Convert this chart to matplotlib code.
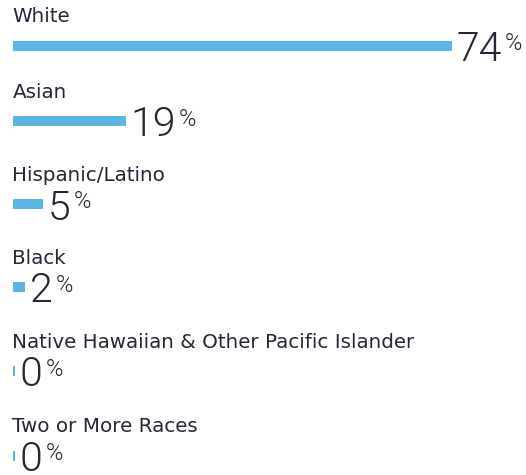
import matplotlib
matplotlib.use("Agg")
import matplotlib.pyplot as plt

categories = ["White", "Asian", "Hispanic/Latino", "Black",
              "Native Hawaiian & Other Pacific Islander", "Two or More Races"]
values = [74, 19, 5, 2, 0, 0]
value_labels = ["74", "19", "5", "2", "0", "0"]

bar_color = "#5db3e4"
text_color = "#262636"

fig = plt.figure(figsize=(5.26, 4.75), dpi=100)
ax = fig.add_axes([0, 0, 1, 1])
px = 5.93  # pixels per percent
ax.set_xlim(-13 / px, 513 / px)
ax.set_ylim(475, 0)
ax.axis("off")

# row centres in pixels (layout only)
ys = [45.5, 121, 204, 287, 371, 455.5]
widths = [max(v, 0.3) for v in values]
ax.barh(ys, widths, height=10, color=bar_color, left=0)

fig.canvas.draw()
renderer = fig.canvas.get_renderer()
for y, w, cat, lab in zip(ys, widths, categories, value_labels):
    ax.text(-0.5 / px, y - 23, cat, fontsize=14.3, color=text_color,
            family="DejaVu Sans", ha="left", va="baseline")
    t = ax.text(w + 5 / px, y + 15.5, lab, fontsize=29.5, color=text_color,
                family="Roboto", fontweight=300, ha="left", va="baseline")
    bb = t.get_window_extent(renderer)
    x_end = ax.transData.inverted().transform((bb.x1, 0))[0]
    ax.text(x_end + 3 / px, y - 13.5, "%", fontsize=17, color=text_color,
            family="Roboto", fontweight=300, ha="left", va="top")

fig.savefig("out.png", dpi=100)
